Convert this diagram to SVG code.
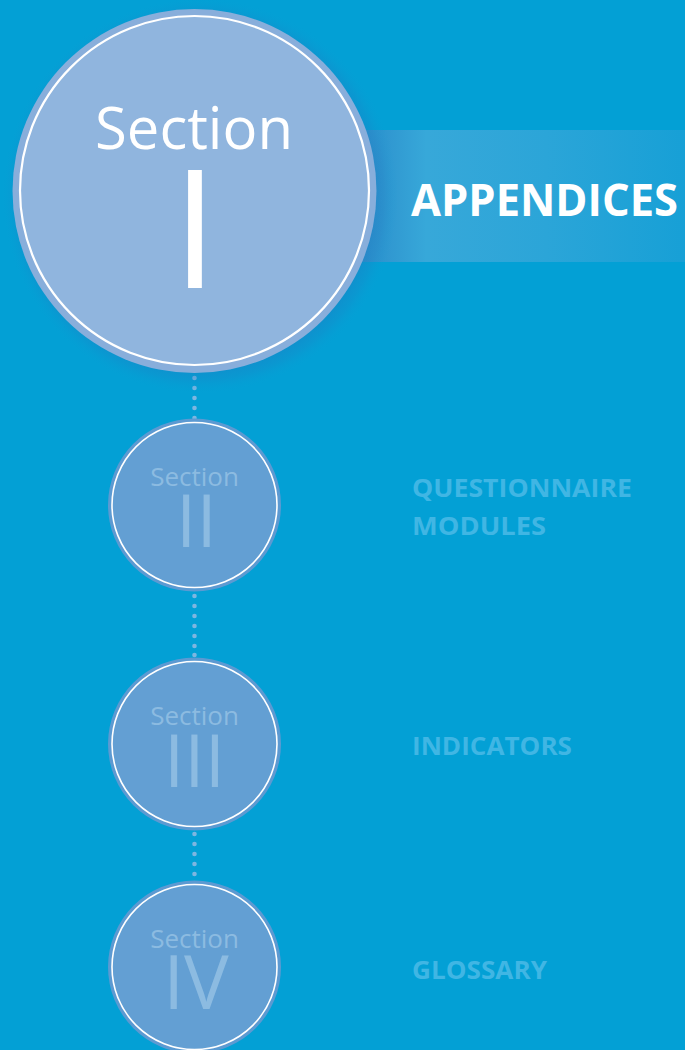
<svg xmlns="http://www.w3.org/2000/svg" width="685" height="1050" viewBox="0 0 685 1050">
  <defs>
    <linearGradient id="bannerGrad" x1="340" y1="0" x2="685" y2="0" gradientUnits="userSpaceOnUse">
      <stop offset="0" stop-color="#2a8cc9"/>
      <stop offset="0.12" stop-color="#2f95cf"/>
      <stop offset="0.25" stop-color="#37a8d9"/>
      <stop offset="0.6" stop-color="#2ba5d8"/>
      <stop offset="1" stop-color="#17a0d6"/>
    </linearGradient>
    <radialGradient id="shadowGrad" cx="0.5" cy="0.5" r="0.5">
      <stop offset="0.85" stop-color="#1f78c0" stop-opacity="0.5"/>
      <stop offset="0.93" stop-color="#1f80c4" stop-opacity="0.25"/>
      <stop offset="1" stop-color="#0aa0d5" stop-opacity="0"/>
    </radialGradient>
    <style>
      .bg { fill: #03a0d5; }
      .dot { fill: #7db6e1; }
      .big-outer { fill: #88aedb; }
      .big-inner { fill: #90b5de; stroke: #ffffff; stroke-width: 2.2; }
      .small-outer { fill: #5c9ad2; }
      .small-inner { fill: #639fd3; stroke: #ffffff; stroke-width: 1.6; }
      .sec-big { font-family: "Open Sans", "Liberation Sans", sans-serif; fill: #ffffff; text-anchor: middle; }
      .sec-small { font-family: "Open Sans", "Liberation Sans", sans-serif; fill: #8cbbe1; text-anchor: middle; }
      .title { font-family: "Open Sans", "Liberation Sans", sans-serif; font-weight: bold; fill: #ffffff; }
      .label { font-family: "Open Sans", "Liberation Sans", sans-serif; font-weight: bold; fill: #40b6e4; font-size: 25px; }
    </style>
  </defs>

  <rect class="bg" x="0" y="0" width="685" height="1050"/>

  <!-- banner -->
  <g id="banner">
    <rect x="340" y="130" width="345" height="132" fill="url(#bannerGrad)"/>
    <text class="title" x="411" y="216" font-size="44" textLength="267" lengthAdjust="spacingAndGlyphs">APPENDICES</text>
  </g>

  <!-- connectors -->
  <g id="connectors">
    <circle class="dot" cx="194.5" cy="378" r="2.3"/>
    <circle class="dot" cx="194.5" cy="388" r="2.3"/>
    <circle class="dot" cx="194.5" cy="398" r="2.3"/>
    <circle class="dot" cx="194.5" cy="408" r="2.3"/>
    <circle class="dot" cx="194.5" cy="418" r="2.3"/>

    <circle class="dot" cx="194.5" cy="596" r="2.3"/>
    <circle class="dot" cx="194.5" cy="606" r="2.3"/>
    <circle class="dot" cx="194.5" cy="616" r="2.3"/>
    <circle class="dot" cx="194.5" cy="626" r="2.3"/>
    <circle class="dot" cx="194.5" cy="636" r="2.3"/>
    <circle class="dot" cx="194.5" cy="646" r="2.3"/>
    <circle class="dot" cx="194.5" cy="655" r="2.3"/>

    <circle class="dot" cx="194.5" cy="834" r="2.3"/>
    <circle class="dot" cx="194.5" cy="844" r="2.3"/>
    <circle class="dot" cx="194.5" cy="854" r="2.3"/>
    <circle class="dot" cx="194.5" cy="864" r="2.3"/>
    <circle class="dot" cx="194.5" cy="874" r="2.3"/>
  </g>

  <!-- Section I -->
  <g id="section-1">
    <circle cx="200" cy="196" r="198" fill="url(#shadowGrad)"/>
    <circle class="big-outer" cx="194.5" cy="191" r="182"/>
    <circle class="big-inner" cx="194.5" cy="190.5" r="174.5"/>
    <text class="sec-big"><tspan x="194" y="149" font-size="58">Section</tspan><tspan x="195" y="288" font-size="165">I</tspan></text>
  </g>

  <!-- Section II -->
  <g id="section-2">
    <circle class="small-outer" cx="194.5" cy="505" r="86.5"/>
    <circle class="small-inner" cx="194.5" cy="505" r="82.5"/>
    <text class="sec-small"><tspan x="194.5" y="486" font-size="26">Section</tspan><tspan x="196.5" y="547" font-size="73">II</tspan></text>
  </g>
  <g id="label-2">
    <text class="label" x="412" y="497" textLength="220" lengthAdjust="spacingAndGlyphs">QUESTIONNAIRE</text>
    <text class="label" x="412" y="535" textLength="134" lengthAdjust="spacingAndGlyphs">MODULES</text>
  </g>

  <!-- Section III -->
  <g id="section-3">
    <circle class="small-outer" cx="194.5" cy="744" r="86.5"/>
    <circle class="small-inner" cx="194.5" cy="744" r="82.5"/>
    <text class="sec-small"><tspan x="194.5" y="725" font-size="26">Section</tspan><tspan x="194.5" y="787" font-size="73">III</tspan></text>
  </g>
  <g id="label-3">
    <text class="label" x="412" y="755" textLength="160" lengthAdjust="spacingAndGlyphs">INDICATORS</text>
  </g>

  <!-- Section IV -->
  <g id="section-4">
    <circle class="small-outer" cx="194.5" cy="967" r="86.5"/>
    <circle class="small-inner" cx="194.5" cy="967" r="82.5"/>
    <text class="sec-small"><tspan x="194.5" y="948" font-size="26">Section</tspan><tspan x="196" y="1009" font-size="75">IV</tspan></text>
  </g>
  <g id="label-4">
    <text class="label" x="412" y="979" textLength="135" lengthAdjust="spacingAndGlyphs">GLOSSARY</text>
  </g>
</svg>
